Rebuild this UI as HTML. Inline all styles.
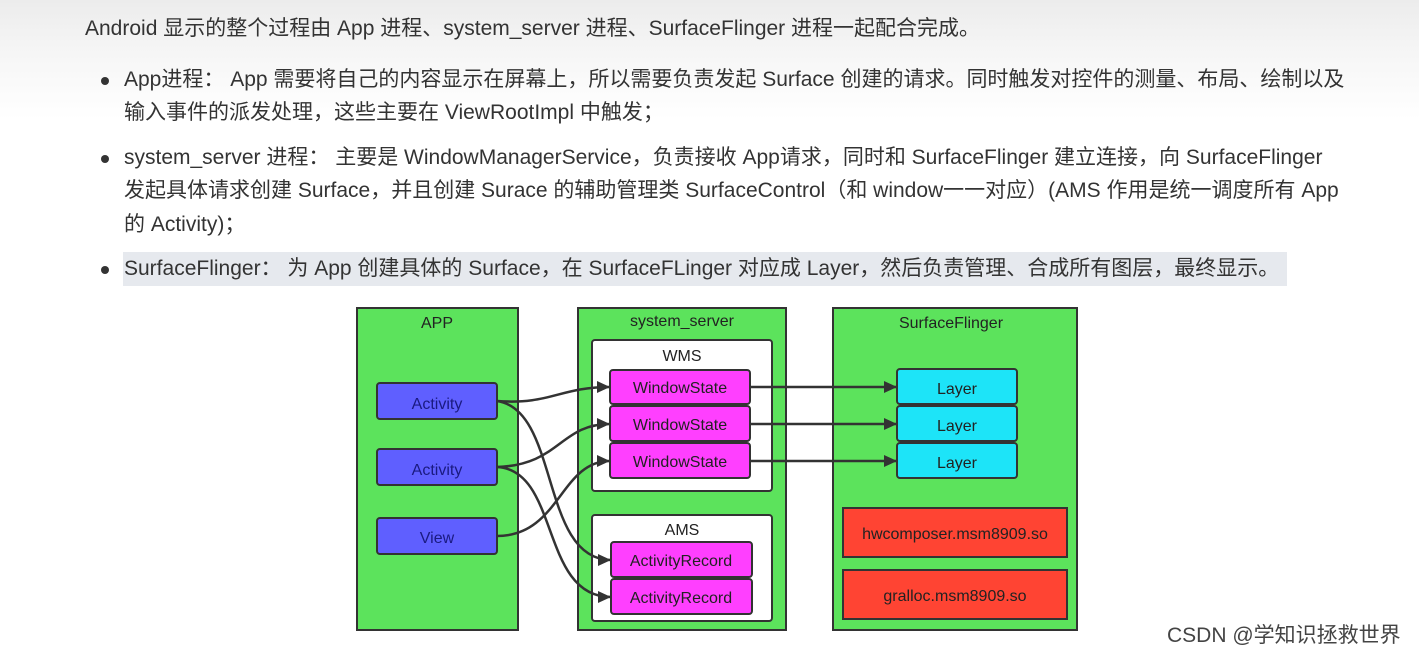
<!DOCTYPE html>
<html><head><meta charset="utf-8">
<style>
html,body{margin:0;padding:0}
body{width:1419px;height:654px;position:relative;overflow:hidden;background:linear-gradient(#ececec 0px,#f7f7f7 60px,#fff 120px);font-family:"Liberation Sans","Noto Sans CJK SC",sans-serif;color:#333}
.t{position:absolute;white-space:nowrap;font-size:21px;line-height:24px}
.b{position:absolute;width:8px;height:8px;border-radius:50%;background:#333}
.hl{position:absolute;left:123px;top:252px;width:1164px;height:34px;background:#e6e9ee}
</style></head><body>
<div class="t" style="left:85px;top:17px">Android 显示的整个过程由 App 进程、system_server 进程、SurfaceFlinger 进程一起配合完成。</div>
<div class="b" style="left:101px;top:77px"></div>
<div class="t" style="left:124px;top:68px">App进程： App 需要将自己的内容显示在屏幕上，所以需要负责发起 Surface 创建的请求。同时触发对控件的测量、布局、绘制以及</div>
<div class="t" style="left:124px;top:101px">输入事件的派发处理，这些主要在 ViewRootImpl 中触发；</div>
<div class="b" style="left:101px;top:155px"></div>
<div class="t" style="left:124px;top:146px">system_server 进程： 主要是 WindowManagerService，负责接收 App请求，同时和 SurfaceFlinger 建立连接，向 SurfaceFlinger</div>
<div class="t" style="left:124px;top:179px">发起具体请求创建 Surface，并且创建 Surace 的辅助管理类 SurfaceControl（和 window一一对应）(AMS 作用是统一调度所有 App</div>
<div class="t" style="left:124px;top:213px">的 Activity)；</div>
<div class="hl"></div>
<div class="b" style="left:101px;top:266px"></div>
<div class="t" style="left:124px;top:257px">SurfaceFlinger： 为 App 创建具体的 Surface，在 SurfaceFLinger 对应成 Layer，然后负责管理、合成所有图层，最终显示。</div>

<svg style="position:absolute;left:0;top:0" width="1419" height="654" font-family="Liberation Sans, sans-serif" font-size="16">
<defs><marker id="a" markerWidth="14" markerHeight="14" refX="13" refY="6" orient="auto" markerUnits="userSpaceOnUse"><path d="M0,0 L13,6 L0,12 z" fill="#333"/></marker></defs>
<g stroke="#333" stroke-width="2">
<rect x="357" y="308" width="161" height="322" fill="#5ce35c"/>
<rect x="578" y="308" width="208" height="322" fill="#5ce35c"/>
<rect x="833" y="308" width="244" height="322" fill="#5ce35c"/>
<rect x="592" y="340" width="180" height="151" rx="3" fill="#fff"/>
<rect x="592" y="515" width="180" height="106" rx="3" fill="#fff"/>
<g fill="#ff3fff">
<rect x="610" y="370" width="140" height="34" rx="3"/>
<rect x="610" y="406" width="140" height="35" rx="3"/>
<rect x="610" y="443" width="140" height="35" rx="3"/>
<rect x="611" y="542" width="141" height="35" rx="3"/>
<rect x="611" y="579" width="141" height="35" rx="3"/>
</g>
<g fill="#5f5fff">
<rect x="377" y="383" width="120" height="36" rx="3"/>
<rect x="377" y="449" width="120" height="36" rx="3"/>
<rect x="377" y="518" width="120" height="36" rx="3"/>
</g>
<g fill="#1de4f8">
<rect x="897" y="369" width="120" height="35" rx="3"/>
<rect x="897" y="406" width="120" height="35" rx="3"/>
<rect x="897" y="443" width="120" height="35" rx="3"/>
</g>
<g fill="#ff4433">
<rect x="843" y="508" width="224" height="49"/>
<rect x="843" y="570" width="224" height="49"/>
</g>
</g>
<g stroke="#333" stroke-width="2.5" fill="none" marker-end="url(#a)">
<path d="M497,401 C550,405 560,387 610,387"/>
<path d="M497,401 C560,410 540,560 611,560"/>
<path d="M497,467 C560,465 560,424 610,424"/>
<path d="M497,467 C560,470 540,597 611,597"/>
<path d="M497,536 C560,536 560,461 610,461"/>
<path d="M750,387 L897,387"/>
<path d="M750,424 L897,424"/>
<path d="M750,461 L897,461"/>
</g>
<g text-anchor="middle" fill="#222">
<text x="437" y="328">APP</text>
<text x="682" y="326">system_server</text>
<text x="951" y="328">SurfaceFlinger</text>
<text x="682" y="361">WMS</text>
<text x="682" y="535">AMS</text>
<text x="680" y="393">WindowState</text>
<text x="680" y="430">WindowState</text>
<text x="680" y="467">WindowState</text>
<text x="681" y="566">ActivityRecord</text>
<text x="681" y="603">ActivityRecord</text>
<text x="437" y="409" fill="#1a1a80">Activity</text>
<text x="437" y="475" fill="#1a1a80">Activity</text>
<text x="437" y="543" fill="#1a1a80">View</text>
<text x="957" y="394">Layer</text>
<text x="957" y="431">Layer</text>
<text x="957" y="468">Layer</text>
<text x="955" y="539">hwcomposer.msm8909.so</text>
<text x="955" y="601">gralloc.msm8909.so</text>
</g>
<text x="1167" y="642" font-size="21" fill="#444" font-family="Liberation Sans, Noto Sans CJK SC, sans-serif">CSDN @学知识拯救世界</text>
</svg>
</body></html>
